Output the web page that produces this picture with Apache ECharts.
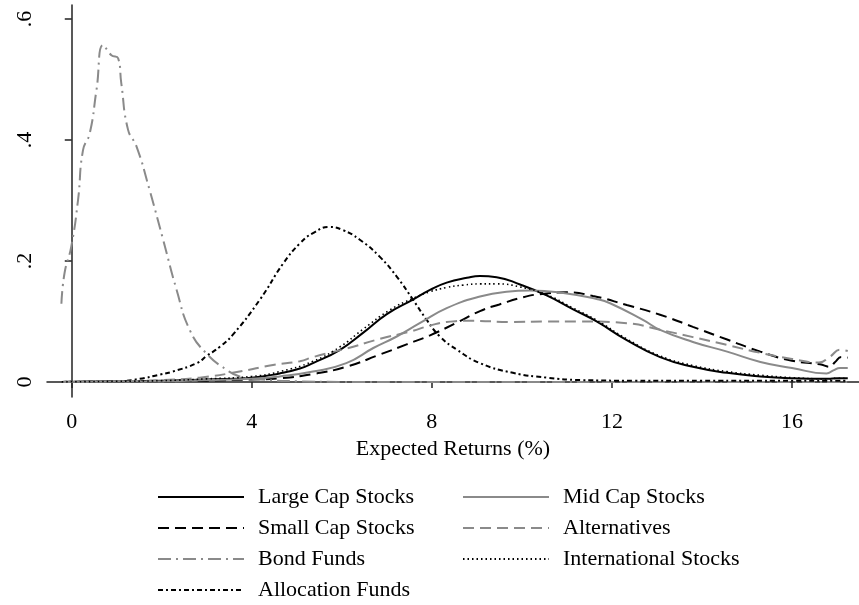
<!DOCTYPE html>
<html>
<head>
<meta charset="utf-8">
<script src="https://cdn.jsdelivr.net/npm/echarts@6/dist/echarts.min.js"></script>
<style>
html,body{margin:0;padding:0;background:#fff;}
#chart{width:859px;height:605px;}
</style>
</head>
<body>
<div id="chart"></div>
<script>
// ---- data ----
const seriesNames = ['Large Cap Stocks','Small Cap Stocks','Bond Funds','Allocation Funds','Mid Cap Stocks','Alternatives','International Stocks'];
const xTicks = [0,4,8,12,16];
const yTicks = [0,0.2,0.4,0.6];

const largeX = [-0.22,1,2,3,4,4.62,5.07,5.36,5.96,6.47,7.0,7.58,7.96,8.33,8.78,9.07,9.44,9.96,10.55,11.14,11.66,12.33,13.07,13.8,14.56,15.3,16.0,16.8,17.0,17.24];
const largeY = [0,0.001,0.002,0.004,0.007,0.014,0.022,0.031,0.053,0.081,0.112,0.136,0.152,0.164,0.172,0.175,0.173,0.161,0.143,0.120,0.100,0.069,0.041,0.025,0.015,0.009,0.006,0.005,0.006,0.006];

const smallX = [-0.22,1,2,3,4,4.62,5.36,6.1,6.84,7.44,7.96,8.56,9.07,9.5,10.03,10.4,10.99,11.58,12.33,13.07,13.8,14.56,15.3,16.0,16.62,16.84,16.96,17.1,17.24];
const smallY = [0,0.0003,0.001,0.002,0.004,0.006,0.013,0.025,0.045,0.062,0.077,0.098,0.117,0.128,0.140,0.145,0.148,0.142,0.127,0.111,0.091,0.070,0.050,0.035,0.029,0.025,0.033,0.041,0.040];

const bondX = [-0.23,-0.16,-0.01,0.14,0.25,0.40,0.55,0.70,0.88,1.03,1.10,1.25,1.44,1.73,2.03,2.33,2.62,2.99,3.44,3.73,4.2,5.0,6,8,10,12,14,16,17.24];
const bondY = [0.129,0.180,0.224,0.301,0.383,0.411,0.483,0.557,0.540,0.535,0.494,0.417,0.389,0.317,0.235,0.152,0.086,0.047,0.020,0.009,0.004,0.001,0,0,0,0,0,0,0];

const allocX = [-0.22,0.5,1,1.51,1.96,2.24,2.78,3.0,3.29,3.58,4.18,4.7,5.07,5.36,5.73,6.02,6.4,6.84,7.22,7.58,7.89,8.18,8.56,9.07,9.8,10.55,11.3,12.5,14,16,17.24];
const allocY = [0,0.0005,0.001,0.005,0.012,0.017,0.031,0.043,0.058,0.078,0.136,0.196,0.229,0.246,0.256,0.251,0.235,0.207,0.174,0.136,0.102,0.075,0.053,0.031,0.015,0.007,0.003,0.002,0.002,0.002,0.002];

const midX = [-0.22,1,2,3,4,4.62,5.36,6.1,6.7,7.22,7.73,8.33,9.07,9.66,10.18,10.92,11.66,11.96,12.7,13.07,13.8,14.56,15.3,16.0,16.77,16.92,17.07,17.24];
const midY = [0,0.0005,0.001,0.003,0.005,0.009,0.017,0.031,0.056,0.075,0.097,0.122,0.141,0.149,0.151,0.147,0.137,0.130,0.102,0.086,0.066,0.050,0.033,0.023,0.014,0.019,0.023,0.023];

const altX = [-0.22,1,2,2.84,3.73,4.47,5.07,5.36,6.1,6.84,7.51,7.96,8.33,8.84,9.8,10.55,11.3,12.33,13.07,13.8,14.56,15.3,16.0,16.6,16.85,17.07,17.24];
const altY = [0,0.001,0.003,0.007,0.017,0.028,0.034,0.041,0.055,0.071,0.083,0.093,0.099,0.101,0.099,0.100,0.100,0.097,0.086,0.074,0.061,0.048,0.038,0.032,0.042,0.053,0.051];

const intlX = [-0.22,1,2,3,4,4.62,5.36,5.96,6.47,7.07,7.58,7.96,8.33,8.7,9.07,9.44,9.96,10.55,11.14,11.66,12.33,13.07,13.8,14.56,15.3,16.0,16.8,17.0,17.24];
const intlY = [0,0.001,0.002,0.005,0.009,0.017,0.034,0.058,0.087,0.119,0.138,0.149,0.156,0.160,0.162,0.162,0.157,0.144,0.122,0.102,0.071,0.043,0.027,0.017,0.011,0.007,0.005,0.006,0.006];

// ---- styles ----
const BLACK = '#000000', GRAY = '#8a8a8a';
const FONT = 'Liberation Serif';
function pairs(xs, ys){ return xs.map((x,i)=>[x, ys[i]]); }
function mk(name, xs, ys, color, type, width){
  return {
    name: name, type: 'line', data: pairs(xs, ys), showSymbol: false, symbol: 'none',
    smooth: 0.5,
    lineStyle: {color: color, width: width, type: type, cap: 'butt'},
    itemStyle: {color: color},
    emphasis: {disabled: true}
  };
}

const series = [
  mk(seriesNames[0], largeX, largeY, BLACK, 'solid', 2),
  mk(seriesNames[1], smallX, smallY, BLACK, [11,6], 2),
  mk(seriesNames[2], bondX, bondY, GRAY, [13,5,2,5], 2),
  mk(seriesNames[3], allocX, allocY, BLACK, [5,3,2,3], 2),
  mk(seriesNames[4], midX, midY, GRAY, 'solid', 2),
  mk(seriesNames[5], altX, altY, GRAY, [11,6], 2),
  mk(seriesNames[6], intlX, intlY, BLACK, [1.5,3], 1.6)
];

// legend slots: column left edge and row centre (layout only)
const colLeft = [157, 157, 157, 157, 462, 462, 462];
const rowMid = [497, 528, 559, 590, 497, 528, 559];
const legends = seriesNames.map((n, i) => ({
  orient: 'horizontal', left: colLeft[i], top: rowMid[i] - 11, padding: 0,
  itemWidth: 86, itemHeight: 22, data: [n], selectedMode: false,
  itemStyle: {opacity: 0, borderWidth: 0},
  textStyle: {fontFamily: FONT, fontSize: 22, color: '#000', padding: [0,0,0,9]}
}));

const chart = echarts.init(document.getElementById('chart'), null, {renderer: 'canvas'});
chart.setOption({
  animation: false,
  backgroundColor: '#ffffff',
  grid: {left: 47, right: 0, top: 5, bottom: 208, containLabel: false},
  xAxis: {
    type: 'value', min: -0.55, max: 17.49,
    name: 'Expected Returns (%)', nameLocation: 'middle', nameGap: 31,
    nameTextStyle: {fontFamily: FONT, fontSize: 22, color: '#000'},
    axisLine: {show: true, lineStyle: {color: '#222', width: 1.5}},
    axisTick: {show: true, length: 6, customValues: xTicks, lineStyle: {color: '#222', width: 1.5}},
    axisLabel: {customValues: xTicks, margin: 14, fontFamily: FONT, fontSize: 22, color: '#000', formatter: v => String(v)},
    splitLine: {show: false}
  },
  yAxis: {
    type: 'value', min: -0.025, max: 0.623,
    axisLine: {show: true, lineStyle: {color: '#222', width: 1.5}},
    axisTick: {show: true, length: 7, customValues: yTicks, lineStyle: {color: '#222', width: 1.5}},
    axisLabel: {customValues: yTicks, rotate: 90, margin: 11, fontFamily: FONT, fontSize: 22, color: '#000',
      formatter: v => v === 0 ? '0' : '.' + Math.round(v * 10)},
    splitLine: {show: false}
  },
  legend: legends,
  series: series
});
</script>
</body>
</html>
